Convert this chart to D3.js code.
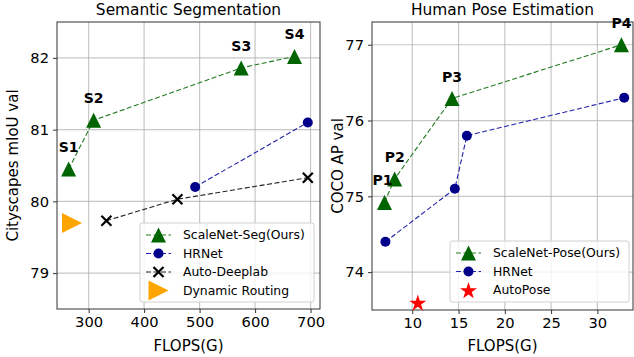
<!DOCTYPE html>
<html>
<head>
<meta charset="utf-8">
<script src="https://cdn.jsdelivr.net/npm/d3@7"></script>
<style>
  body { margin: 0; background: #fff; }
  svg { font-family: "DejaVu Sans", sans-serif; }
</style>
</head>
<body>
<div id="chart"></div>
<script>
// Data
var segLabels = ["S1", "S2", "S3", "S4"];
var segFlops = [264, 309, 575, 671];
var segMiou = [80.45, 81.13, 81.86, 82.02];
var hrSegFlops = [492, 695];
var hrSegMiou = [80.2, 81.1];
var autoDlFlops = [332, 460, 695];
var autoDlMiou = [79.73, 80.03, 80.33];
var dynFlops = [270];
var dynMiou = [79.7];

var poseLabels = ["P1", "P2", "P3", "P4"];
var poseFlops = [7.0, 8.1, 14.3, 32.6];
var poseAp = [74.92, 75.23, 76.29, 77.0];
var hrPoseFlops = [7.1, 14.6, 15.9, 32.9];
var hrPoseAp = [74.4, 75.1, 75.8, 76.3];
var autoPoseFlops = [10.6];
var autoPoseAp = [73.6];

var segXTicks = [300, 400, 500, 600, 700];
var segYTicks = [79, 80, 81, 82];
var poseXTicks = [10, 15, 20, 25, 30];
var poseYTicks = [74, 75, 76, 77];

var svg = d3.select("#chart").append("svg")
    .attr("width", 634)
    .attr("height", 357);

var green = "#006400", blue = "#00008b", gridCol = "#b0b0b0";

function zip(xs, ys) { return xs.map((x, i) => ({x: x, y: ys[i]})); }

function triUp(s) { return `M0,${-s/2}L${s/2},${s/2}L${-s/2},${s/2}Z`; }
function triRight(s) { return `M${s/2},0L${-s/2},${s/2}L${-s/2},${-s/2}Z`; }
function cross(s) { return `M${-s/2},${-s/2}L${s/2},${s/2}M${-s/2},${s/2}L${s/2},${-s/2}`; }

function drawMarker(g, kind, x, y) {
    if (kind === "tri") {
        g.append("path").attr("d", triUp(15)).attr("transform", `translate(${x},${y})`).attr("fill", green);
    } else if (kind === "circle") {
        g.append("circle").attr("cx", x).attr("cy", y).attr("r", 5).attr("fill", blue);
    } else if (kind === "x") {
        g.append("path").attr("d", cross(10)).attr("transform", `translate(${x},${y})`)
            .attr("stroke", "black").attr("stroke-width", 2.2).attr("fill", "none");
    } else if (kind === "right") {
        g.append("path").attr("d", triRight(20)).attr("transform", `translate(${x},${y})`).attr("fill", "orange");
    } else if (kind === "star") {
        g.append("path").attr("d", d3.symbol(d3.symbolStar, 90)()).attr("transform", `translate(${x},${y + 1})`).attr("fill", "red");
    }
}

function panel(opt) {
    var x = d3.scaleLinear().domain(opt.xDomain).range([opt.left, opt.right]);
    var y = d3.scaleLinear().domain(opt.yDomain).range([opt.bottom, opt.top]);
    var g = svg.append("g");

    // grid
    g.selectAll(".gx").data(opt.xTicks).enter().append("line")
        .attr("x1", d => x(d)).attr("x2", d => x(d))
        .attr("y1", opt.top).attr("y2", opt.bottom)
        .attr("stroke", gridCol).attr("stroke-width", 1.2).attr("opacity", 0.7);
    g.selectAll(".gy").data(opt.yTicks).enter().append("line")
        .attr("x1", opt.left).attr("x2", opt.right)
        .attr("y1", d => y(d)).attr("y2", d => y(d))
        .attr("stroke", gridCol).attr("stroke-width", 1.2).attr("opacity", 0.7);

    // axes
    var xAxis = g.append("g").attr("transform", `translate(0,${opt.bottom})`)
        .call(d3.axisBottom(x).tickValues(opt.xTicks).tickSize(4).tickPadding(4).tickFormat(d3.format("d")));
    var yAxis = g.append("g").attr("transform", `translate(${opt.left},0)`)
        .call(d3.axisLeft(y).tickValues(opt.yTicks).tickSize(4).tickPadding(4).tickFormat(d3.format("d")));
    [xAxis, yAxis].forEach(a => {
        a.select(".domain").remove();
        a.selectAll("text").attr("font-size", 14.7).attr("fill", "#000").attr("font-family", "DejaVu Sans");
        a.selectAll("line").attr("stroke", "#333");
    });

    // spines
    g.append("rect").attr("x", opt.left).attr("y", opt.top)
        .attr("width", opt.right - opt.left).attr("height", opt.bottom - opt.top)
        .attr("fill", "none").attr("stroke", "#333").attr("stroke-width", 1);

    var plot = g.append("g");
    var line = d3.line().x(d => x(d.x)).y(d => y(d.y));
    opt.series.forEach(s => {
        var pts = zip(s.xs, s.ys);
        if (s.line) {
            plot.append("path").datum(pts).attr("d", line)
                .attr("fill", "none").attr("stroke", s.line).attr("stroke-width", 1.1)
                .attr("stroke-dasharray", "5,2.5");
        }
        pts.forEach(p => drawMarker(plot, s.marker, x(p.x), y(p.y)));
        if (s.labels) {
            pts.forEach((p, i) => {
                plot.append("text").attr("x", x(p.x) + (s.labelDx ? s.labelDx[i] : 0)).attr("y", y(p.y) - 17)
                    .attr("text-anchor", "middle").attr("font-size", 14).attr("font-weight", "bold")
                    .text(s.labels[i]);
            });
        }
    });

    // titles
    g.append("text").attr("x", (opt.left + opt.right) / 2).attr("y", 15)
        .attr("text-anchor", "middle").attr("font-size", 15.4).text(opt.title);
    g.append("text").attr("x", (opt.left + opt.right) / 2).attr("y", 351)
        .attr("text-anchor", "middle").attr("font-size", 15).text("FLOPS(G)");
    g.append("text").attr("transform", `translate(${opt.yLabelX},${(opt.top + opt.bottom) / 2}) rotate(-90)`)
        .attr("text-anchor", "middle").attr("dy", "0.35em").attr("font-size", 15).text(opt.yLabel);

    // legend
    var lg = g.append("g");
    lg.append("rect").attr("x", opt.legend.x).attr("y", opt.legend.y)
        .attr("width", opt.legend.w).attr("height", opt.legend.h).attr("rx", 2)
        .attr("fill", "white").attr("fill-opacity", 0.8).attr("stroke", "#d0d0d0");
    opt.series.forEach((s, i) => {
        var cy = opt.legend.y + 12 + i * 18.5;
        var lx = opt.legend.x + 6;
        if (s.line) {
            lg.append("line").attr("x1", lx).attr("x2", lx + 25).attr("y1", cy).attr("y2", cy)
                .attr("stroke", s.line).attr("stroke-width", 1.1).attr("stroke-dasharray", "5,2.5");
        }
        drawMarker(lg, s.marker, lx + 12.5, cy);
        lg.append("text").attr("x", lx + 37).attr("y", cy).attr("dy", "0.35em")
            .attr("font-size", 12.4).text(s.name);
    });
}

panel({
    left: 57, right: 320, top: 22, bottom: 309,
    xDomain: [243, 717], yDomain: [78.5, 82.5],
    xTicks: segXTicks, yTicks: segYTicks,
    title: "Semantic Segmentation", yLabel: "Cityscapes mIoU val", yLabelX: 13,
    legend: {x: 140, y: 223, w: 174, h: 79},
    series: [
        {name: "ScaleNet-Seg(Ours)", xs: segFlops, ys: segMiou, marker: "tri", line: "#1f7a1f", labels: segLabels},
        {name: "HRNet", xs: hrSegFlops, ys: hrSegMiou, marker: "circle", line: "#2020aa"},
        {name: "Auto-Deeplab", xs: autoDlFlops, ys: autoDlMiou, marker: "x", line: "#222"},
        {name: "Dynamic Routing", xs: dynFlops, ys: dynMiou, marker: "right"}
    ]
});

panel({
    left: 372, right: 633, top: 22, bottom: 310,
    xDomain: [5.65, 33.85], yDomain: [73.5, 77.3],
    xTicks: poseXTicks, yTicks: poseYTicks,
    title: "Human Pose Estimation", yLabel: "COCO AP val", yLabelX: 338,
    legend: {x: 450, y: 241, w: 179, h: 61},
    series: [
        {name: "ScaleNet-Pose(Ours)", xs: poseFlops, ys: poseAp, marker: "tri", line: "#1f7a1f", labels: poseLabels, labelDx: [-2, 0, 0, 0]},
        {name: "HRNet", xs: hrPoseFlops, ys: hrPoseAp, marker: "circle", line: "#2020aa"},
        {name: "AutoPose", xs: autoPoseFlops, ys: autoPoseAp, marker: "star"}
    ]
});
</script>
</body>
</html>
